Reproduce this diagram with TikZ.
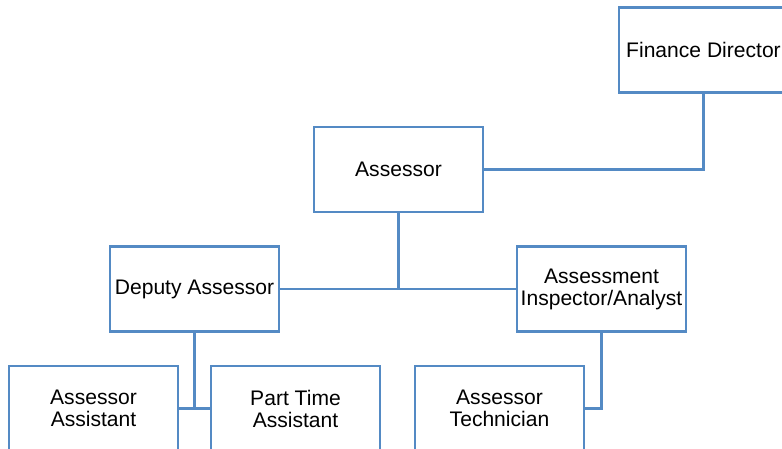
\documentclass[tikz,border=0pt]{standalone}
\usepackage{fontspec}
\setmainfont{Liberation Sans}
\usepackage{tikz}
\usetikzlibrary{positioning,calc}
\definecolor{orgblue}{RGB}{84,138,196}
\tikzset{
  orgbox/.style={draw=orgblue,line width=1.6pt,fill=white,
        minimum width=126.75pt,minimum height=63.75pt,inner sep=1pt,
        align=center,font=\fontsize{15.8}{16.5}\selectfont},
  orgline/.style={draw=orgblue,line width=1.6pt}
}
\begin{document}
\begin{tikzpicture}[x=0.75pt,y=-0.75pt]
  % canvas
  \useasboundingbox (0,0) rectangle (782,449);
  \clip (0,0) rectangle (782,449);

  % top levels
  \node[orgbox] (fin) at (703.5,50) {Finance Director};
  \node[orgbox] (assessor) at (398.5,169.5) {Assessor};
  \node[orgbox] (deputy) at (194.5,289) {Deputy Assessor};
  \node[orgbox] (inspector) at (601.5,289) {Assessment\\Inspector/Analyst};

  % bottom row
  \node[orgbox] (assistant) at (93.5,408.5) {Assessor\\Assistant};
  \node[orgbox] (parttime) at (295.5,408.5) {Part Time\\Assistant};
  \node[orgbox] (technician) at (499.5,408.5) {Assessor\\Technician};

  % connectors
  \draw[orgline] (fin.south) |- (assessor.east);
  \draw[orgline] (deputy.east) -- (inspector.west);
  \draw[orgline] (assessor.south) -- (assessor.south |- deputy.east);
  \draw[orgline] (assistant.east) -- (parttime.west);
  \draw[orgline] (deputy.south) -- (deputy.south |- assistant.east);
  \draw[orgline] (inspector.south) |- (technician.east);
\end{tikzpicture}
\end{document}
